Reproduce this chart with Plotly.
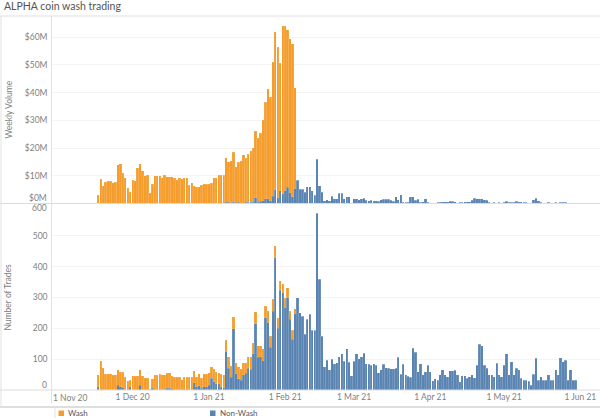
import pandas as pd
import plotly.graph_objects as go
from plotly.subplots import make_subplots

W, H = 600, 418
ORANGE = '#F59C2B'
BLUE = '#5A84B2'
GREY = '#7f7f7f'
FONT = 'Lato'

start_date = '2020-11-17'

# stacked volume, $M per bar
wash_volume = [3, 8.8, 6.4, 7.6, 8, 8, 7.5, 7.7, 13.9, 14.3, 10.8, 9.3, 5.4, 4.1, 8.4, 8.2, 12.9, 14.3, 11.7, 10,
               10.2, 3.6, 7, 9.9, 9.9, 9.9, 9.2, 10.1, 9.6, 9.6, 9.6, 9, 8.3, 9.3, 8.7, 9.2, 9.2, 6.6, 7.5, 6.4,
               6.1, 5.8, 6.5, 6.9, 6.9, 6.9, 7.2, 9.3, 9.3, 10.1, 10.2, 10.2,
               16.1, 14.5, 15.2, 17.9, 13.2, 14.3, 15.1, 17.5, 15.9, 17.2, 18.5, 19.5, 24, 23.1, 24.7, 29, 34.9,
               39.5, 37.4, 48.5, 57, 54.4, 46.1, 60.7, 59.4, 56.8, 55.6, 55.2, 36.5]
non_wash_volume = [0] * 52 + [
    .4, .5, .2, .5, .1, .5, .2, .1, .4, .5, .5, .5, 2, .4, .7, 1, 1.6, 1.7, 1, 2.5, 5, 2, 4.5, 3.5, 4.5, 5.8, 3.8,
    2.4, 5.3,
    8.4, 5.2, 5.2, 4, 6, 6.1, 4.6, 3, 16, 6.4, 4, 1, 1.3, 1, 2.5, 1.7, 1.6, 3.6, 3.7, 1.6, 2.4, 2.4, .3, 1.6, 1.6,
    1.3, 1.7, 1.8, 1.2, 1, 1.2, 1, .9, .8, 1.3, 1.5, 1.5, 1.5, 1.2, .7, 2.4, 1.3, 3.1, .5, .5, .5, 2.4, 2.4, 1.2,
    1.5, .4, .6, 1.7, .4, .2, .1, .1, .4, .5, .6, .6, .6, .7, .8, .6, .2, .5, .5, .6, .6, .6, 1.2, 1.8, 1.6, 1.6,
    1.6, 1.4, 1.2, .5, .1, .5, .2, .4, .2, .5, .7, .4, .5, .4, .7, .6, .6, .5, .5, .2, .1, 1.3, 1.8, 1, .4, .2, .2,
    .5, .2, .2, .5, .2, .4, .4, .4, .2, .1, .2, .2]

# stacked trade counts
wash_trades = [38, 91, 70, 51, 51, 52, 48, 49, 49, 48, 49, 41, 29, 21, 46, 44, 46, 49, 44, 38,
               38, 2, 31, 48, 48, 51, 50, 50, 48, 50, 40, 41, 41, 41, 33, 37, 37, 41, 43, 39,
               32, 38, 33, 40, 40, 40, 38, 41, 38, 36, 40, 41,
               38, 38, 36, 38, 37, 40, 35, 40, 35, 38, 41, 37, 39, 38, 36, 38, 37, 38, 36, 38, 39, 32, 30, 28, 30,
               32, 27, 29, 16]
non_wash_trades = [11, 3, 0, 0, 0, 0, 0, 0, 16, 10, 8, 0, 0, 11, 0, 0, 0, 16, 0, 0, 0, 0, 5, 0, 0, 0, 0, 0, 6, 6,
                   4, 0, 0, 0, 0, 4, 4, 0, 0, 23, 10, 14, 5, 11, 11, 16, 38, 27, 20, 20, 11, 8,
                   124, 70, 41, 198, 52, 36, 32, 49, 54, 70, 67, 117, 215, 106, 108, 95, 235, 218, 139, 256, 429,
                   200, 324, 316, 267, 300, 229, 165, 247,
                   300, 251, 240, 181, 230, 246, 193, 193, 574, 359, 175,
                   76, 96, 65, 100, 85, 89, 108, 117, 94, 133, 90, 47, 94, 117, 101, 108, 120, 85, 83, 80, 85, 81,
                   56, 65, 83, 72, 70, 69, 69, 70, 106, 51, 83, 49, 44, 41, 135, 122, 60, 85, 49, 60, 81, 60, 30,
                   36, 32, 49, 65, 49, 43, 62, 62, 64, 49, 27, 47, 47, 38, 43, 49, 40, 81, 149, 144, 81, 70, 49, 49,
                   43, 86, 49, 43, 81, 117, 49, 92, 49, 70, 65, 38, 32, 32, 29, 16, 51, 103, 32, 43, 32, 32, 49, 32,
                   32, 65, 49, 105, 92, 96, 32, 65, 32, 32]

volume_ticks = [10, 20, 30, 40, 50, 60]
volume_labels = ['$10M', '$20M', '$30M', '$40M', '$50M', '$60M']
trade_ticks = [100, 200, 300, 400, 500]
date_ticks = ['2020-12-01', '2021-01-01', '2021-02-01', '2021-03-01', '2021-04-01', '2021-05-01', '2021-06-01']
date_labels = ['1 Dec 20', '1 Jan 21', '1 Feb 21', '1 Mar 21', '1 Apr 21', '1 May 21', '1 Jun 21']


def py(px):
    """pixel row to paper y"""
    return 1 - px / H


n_bars = len(non_wash_trades)
dates = pd.date_range(start_date, periods=n_bars)
pad = lambda values: values + [0] * (n_bars - len(values))

fig = make_subplots(rows=2, cols=1, shared_xaxes=True)
bar_line = dict(color='rgba(255,255,255,0.35)', width=0.3)
fig.add_trace(go.Bar(x=dates, y=pad(non_wash_volume), name='Non-Wash', marker=dict(color=BLUE, line=bar_line)), row=1, col=1)
fig.add_trace(go.Bar(x=dates, y=pad(wash_volume), name='Wash', marker=dict(color=ORANGE, line=bar_line)), row=1, col=1)
fig.add_trace(go.Bar(x=dates, y=pad(non_wash_trades), name='Non-Wash', marker=dict(color=BLUE, line=bar_line)), row=2, col=1)
fig.add_trace(go.Bar(x=dates, y=pad(wash_trades), name='Wash', marker=dict(color=ORANGE, line=bar_line)), row=2, col=1)

fig.update_layout(width=W, height=H, margin=dict(l=0, r=0, t=0, b=0), barmode='stack', bargap=0.06,
                  showlegend=False, plot_bgcolor='white', paper_bgcolor='white',
                  font=dict(family=FONT, size=8.5, color=GREY))
x_range = ['2020-10-29', '2021-06-09']
tick_font = dict(family=FONT, size=8.5, color=GREY)
fig.update_xaxes(range=x_range, domain=[51.5 / W, 1], showgrid=False, zeroline=False, showline=False, ticks='',
                 tickvals=date_ticks, ticktext=date_labels, tickangle=0, tickfont=tick_font)
fig.update_yaxes(showline=False, zeroline=False, ticks='', gridcolor='#f4f4f4', gridwidth=1, tickfont=tick_font,
                 ticklabelstandoff=3)
fig.update_yaxes(row=1, col=1, domain=[py(203.4), py(16)], range=[0, 67.65], tickvals=volume_ticks,
                 ticktext=volume_labels, title=dict(text='Weekly Volume', standoff=10, font=tick_font))
fig.update_yaxes(row=2, col=1, domain=[py(390), py(205)], range=[0, 600], tickvals=trade_ticks + [600],
                 ticktext=[str(t) for t in trade_ticks] + [''],
                 title=dict(text='Number of Trades', standoff=19, font=tick_font))

rule = dict(type='line', xref='paper', yref='paper')
fig.add_shape(**rule, x0=0, x1=1, y0=py(16), y1=py(16), line=dict(color='#dedede', width=1))
fig.add_shape(**rule, x0=0, x1=1, y0=py(203.5), y1=py(203.5), line=dict(color='#dcdcdc', width=1))
fig.add_shape(**rule, x0=0, x1=1, y0=py(390), y1=py(390), line=dict(color='#dcdcdc', width=1))
fig.add_shape(**rule, x0=0, x1=1, y0=py(407), y1=py(407), line=dict(color='#dedede', width=2))
fig.add_shape(**rule, x0=51.5 / W, x1=51.5 / W, y0=py(403), y1=py(16), line=dict(color='#e2e2e2', width=1))
fig.add_shape(**rule, x0=1 / W, x1=1 / W, y0=py(407), y1=py(16), line=dict(color='#e2e2e2', width=1))
fig.add_shape(**rule, x0=55 / W, x1=55 / W, y0=0, y1=py(408), line=dict(color='#e2e2e2', width=1))

# clamped labels sit off their gridlines in the original, so they are placed by hand
def text_at(text, px_x, px_y, xanchor='right', yanchor='middle', color=GREY, size=8.5):
    fig.add_annotation(text=text, xref='paper', yref='paper', x=px_x / W, y=py(px_y), xanchor=xanchor, yanchor=yanchor,
                       showarrow=False, font=dict(family=FONT, size=size, color=color), borderpad=0)


text_at('ALPHA coin wash trading', 3, 6, xanchor='left', color='#555555', size=10.5)
text_at('$0M', 48, 198)
text_at('600', 48, 207.5)
text_at('0', 48, 385)
text_at('1 Nov 20', 52, 398, xanchor='left')

for swatch_x, color, label in [(58.5, ORANGE, 'Wash'), (210, BLUE, 'Non-Wash')]:
    fig.add_shape(type='rect', xref='paper', yref='paper', x0=swatch_x / W, x1=(swatch_x + 5.5) / W, y0=py(416),
                  y1=py(410.5), fillcolor=color, line=dict(width=0))
    text_at(label, swatch_x + 8.5, 412.5, xanchor='left', color='#555555', size=8)

# drop the browser's default page margin so paper pixels line up with the window
fig.write_html("out.html", config={'displayModeBar': False}, post_script="document.body.style.margin = '0';")
